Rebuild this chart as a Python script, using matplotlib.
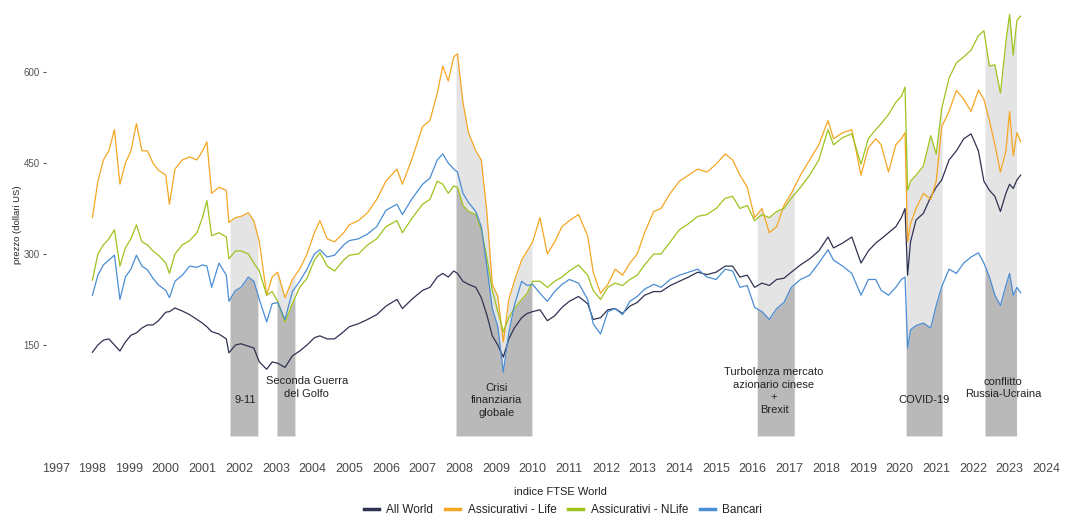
import matplotlib
matplotlib.use("Agg")
import matplotlib.pyplot as plt
from matplotlib.lines import Line2D
import numpy as np

plt.rcParams['font.family'] = ['Liberation Sans', 'DejaVu Sans']

# date (anni decimali) e valori
anni = [1998.00, 1998.15, 1998.30, 1998.45, 1998.60, 1998.75, 1998.90, 1999.05, 1999.20, 1999.35,
        1999.50, 1999.65, 1999.80, 2000.00, 2000.10, 2000.25, 2000.45, 2000.65, 2000.85, 2001.00,
        2001.12, 2001.25, 2001.45, 2001.65, 2001.72, 2001.90, 2002.05, 2002.25, 2002.40, 2002.55,
        2002.75, 2002.90, 2003.05, 2003.25, 2003.45, 2003.65, 2003.85, 2004.05, 2004.20, 2004.40,
        2004.60, 2004.85, 2005.00, 2005.25, 2005.50, 2005.75, 2006.00, 2006.30, 2006.45, 2006.70,
        2007.00, 2007.20, 2007.40, 2007.55, 2007.70, 2007.85, 2007.95, 2008.10, 2008.25, 2008.45,
        2008.60, 2008.75, 2008.90, 2009.05, 2009.20, 2009.35, 2009.50, 2009.70, 2009.85, 2010.00,
        2010.20, 2010.40, 2010.60, 2010.80, 2011.00, 2011.25, 2011.50, 2011.65, 2011.85, 2012.05,
        2012.25, 2012.45, 2012.65, 2012.85, 2013.05, 2013.30, 2013.50, 2013.75, 2014.00, 2014.25,
        2014.50, 2014.75, 2015.00, 2015.25, 2015.45, 2015.65, 2015.85, 2016.05, 2016.25, 2016.45,
        2016.65, 2016.85, 2017.05, 2017.30, 2017.55, 2017.80, 2018.05, 2018.20, 2018.45, 2018.70,
        2018.95, 2019.15, 2019.35, 2019.50, 2019.70, 2019.90, 2020.05, 2020.15, 2020.22, 2020.30,
        2020.45, 2020.65, 2020.85, 2021.00, 2021.15, 2021.35, 2021.55, 2021.75, 2021.95, 2022.15,
        2022.30, 2022.45, 2022.60, 2022.75, 2022.90, 2023.00, 2023.10, 2023.20, 2023.30]

all_world = [138, 150, 158, 160, 150, 140, 155, 166, 170, 178,
             183, 183, 190, 204, 205, 211, 206, 200, 192, 186,
             180, 172, 168, 160, 137, 150, 152, 148, 145, 122,
             110, 122, 120, 113, 132, 140, 150, 162, 165, 160,
             160, 172, 180, 185, 192, 200, 214, 225, 210, 225,
             240, 245, 262, 268, 262, 272, 268, 255, 250, 245,
             228, 200, 165, 150, 130, 160, 178, 195, 202, 205,
             208, 190, 198, 212, 222, 230, 218, 192, 195, 208,
             210, 202, 214, 220, 232, 238, 238, 248, 255, 262,
             270, 266, 270, 280, 280, 262, 265, 245, 252, 248,
             258, 260, 270, 282, 292, 305, 328, 310, 318, 328,
             285, 305, 318, 325, 335, 345, 360, 375, 265, 320,
             356, 367, 394, 410, 422, 455, 470, 490, 498, 470,
             420, 405, 395, 370, 400, 415, 408, 422, 430]

life = [360, 420, 455, 470, 505, 415, 450, 470, 515, 470,
        470, 450, 438, 430, 382, 440, 455, 460, 455, 470,
        485, 400, 410, 405, 352, 360, 362, 368, 355, 320,
        232, 262, 270, 228, 258, 275, 300, 335, 355, 325,
        320, 335, 348, 355, 368, 390, 420, 440, 415, 455,
        510, 520, 565, 610, 585, 625, 630, 550, 500, 470,
        455, 370, 250, 230, 155, 225, 255, 290, 305, 320,
        360, 300, 320, 345, 355, 365, 330, 270, 235, 250,
        275, 265, 285, 300, 335, 370, 375, 400, 420, 430,
        440, 435, 448, 465, 455, 430, 410, 360, 375, 335,
        345, 380, 400, 430, 455, 480, 520, 490, 500, 505,
        430, 475, 490, 480, 435, 480, 490, 500, 320, 350,
        375, 400, 390, 420, 510, 535, 570, 555, 535, 570,
        555, 520, 480, 435, 470, 535, 462, 500, 485]

nlife = [257, 300, 315, 325, 340, 280, 310, 325, 348, 320,
         315, 305, 298, 285, 268, 300, 315, 322, 335, 360,
         388, 330, 335, 328, 292, 305, 305, 300, 285, 272,
         232, 238, 222, 188, 218, 245, 260, 290, 302, 280,
         272, 290, 298, 300, 315, 325, 345, 355, 335, 358,
         382, 390, 420, 415, 400, 412, 410, 380, 370, 365,
         340, 295, 240, 205, 172, 195, 210, 225, 235, 255,
         255, 245, 255, 262, 272, 282, 265, 240, 225, 245,
         252, 248, 258, 265, 282, 300, 300, 320, 340, 350,
         362, 365, 375, 392, 395, 375, 380, 355, 365, 360,
         370, 375, 392, 410, 430, 455, 505, 480, 492, 498,
         448, 490, 505, 515, 530, 550, 560, 575, 405, 420,
         430, 445, 495, 465, 540, 590, 615, 625, 636, 660,
         668, 610, 612, 565, 650, 695, 628, 685, 692]

bancari = [232, 265, 282, 290, 298, 225, 262, 275, 298, 280,
           274, 260, 249, 240, 228, 255, 265, 280, 278, 282,
           280, 245, 285, 265, 222, 240, 245, 262, 255, 225,
           188, 218, 220, 192, 238, 255, 275, 300, 307, 295,
           298, 315, 322, 325, 333, 345, 372, 382, 365, 390,
           415, 425, 455, 465, 450, 440, 435, 400, 385, 370,
           345, 280, 210, 180, 105, 170, 215, 255, 248, 250,
           235, 222, 238, 250, 258, 252, 225, 185, 168, 205,
           210, 200, 222, 230, 242, 250, 245, 258, 265, 270,
           275, 262, 258, 275, 272, 245, 248, 212, 205, 192,
           210, 220, 245, 258, 265, 285, 307, 290, 280, 268,
           232, 258, 258, 240, 232, 245, 258, 262, 145, 175,
           182, 186, 178, 215, 246, 275, 268, 285, 295, 302,
           285, 262, 232, 215, 248, 268, 232, 245, 236]

serie = ['All World', 'Assicurativi - Life', 'Assicurativi - NLife', 'Bancari']
colori = ['#2f3352', '#f5a623', '#9dc31d', '#4a8dd3']

# periodi di crisi e relative etichette
periodi = [(2001.75, 2002.51), (2003.03, 2003.52), (2007.91, 2009.98),
           (2016.12, 2017.13), (2020.18, 2021.16), (2022.33, 2023.19)]
etichette = ['9-11', 'Seconda Guerra\ndel Golfo', 'Crisi\nfinanziaria\nglobale',
             'Turbolenza mercato\nazionario cinese\n+\nBrexit', 'COVID-19',
             'conflitto\nRussia-Ucraina']
pos_etichette = [(2002.17, 59), (2003.84, 80), (2009.02, 59), (2016.58, 74),
                 (2020.67, 59), (2022.82, 79)]

anni = np.array(anni)
settori = np.array([life, nlife, bancari], dtype=float)

fig = plt.figure(figsize=(10.67, 5.17), dpi=100)
ax = fig.add_axes([46 / 1067, 0.1157, 1 - 46 / 1067, 0.9034])

# fasce grigie: chiaro tra min e max dei settori, scuro sotto il minimo
for (a, b) in periodi:
    t = np.linspace(a, b, 300)
    vals = np.array([np.interp(t, anni, s) for s in settori])
    lo = vals.min(axis=0)
    hi = vals.max(axis=0)
    ax.fill_between(t, lo, hi, color='#e4e4e4', lw=0, zorder=1)
    ax.fill_between(t, 0, lo, color='#b9b9b9', lw=0, zorder=1)

for nome, dati, col in zip(serie, [all_world, life, nlife, bancari], colori):
    ax.plot(anni, dati, color=col, lw=0.9, zorder=3)

for testo, (xt, yt) in zip(etichette, pos_etichette):
    ax.text(xt, yt, testo, ha='center', va='center', fontsize=8, color='#222222',
            linespacing=1.3, zorder=4)

ax.set_xlim(1996.735, 2024.565)
ax.set_ylim(-35, 735)
for s in ax.spines.values():
    s.set_visible(False)

anni_tick = list(range(1997, 2025))
ax.set_xticks(anni_tick)
ax.set_xticklabels([str(a) for a in anni_tick])
ax.tick_params(axis='x', length=0, pad=4, labelsize=9, labelcolor='#4a4a4a')
ax.set_yticks([150, 300, 450, 600])
ax.tick_params(axis='y', length=2.5, width=0.8, color='#555555', pad=2,
               labelsize=7, labelcolor='#555555')

fig.text(18 / 1067, 1 - 225 / 517, 'prezzo (dollari US)', rotation=90,
         ha='center', va='center', fontsize=6.8, color='#222222')
fig.text(560 / 1067, 1 - 492 / 517, 'indice FTSE World', ha='center', va='center',
         fontsize=8, color='#222222')

handles = [Line2D([0], [0], color=c, lw=2.5) for c in colori]
fig.legend(handles, serie, loc='center', bbox_to_anchor=(563 / 1067, 1 - 510 / 517),
           ncol=4, frameon=False, fontsize=8.5, handlelength=1.3, handletextpad=0.6,
           columnspacing=1.0, labelcolor='#222222')

fig.savefig('out.png', dpi=100)
